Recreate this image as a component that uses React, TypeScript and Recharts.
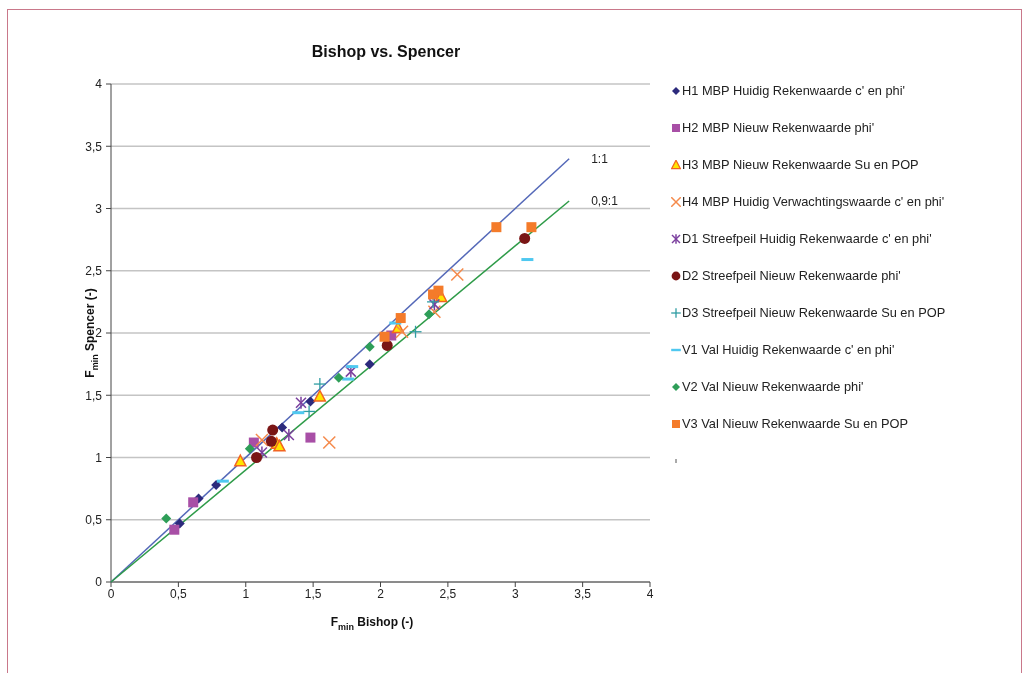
import React from 'react';
import { ScatterChart, Scatter, XAxis, YAxis, CartesianGrid, ReferenceDot } from 'recharts';

// values: [F_min Bishop, F_min Spencer]
const h1: [number, number][] = [[0.51, 0.47], [0.65, 0.67], [0.78, 0.78], [1.27, 1.24], [1.48, 1.45], [1.92, 1.75]];
const h2: [number, number][] = [[0.47, 0.42], [0.61, 0.64], [1.06, 1.12], [1.48, 1.16], [2.08, 1.98]];
const h3: [number, number][] = [[0.96, 0.97], [1.23, 1.11], [1.25, 1.09], [1.55, 1.49], [2.13, 2.04], [2.45, 2.29]];
const h4: [number, number][] = [[1.12, 1.14], [1.62, 1.12], [2.16, 2.01], [2.4, 2.17], [2.57, 2.47]];
const d1: [number, number][] = [[1.12, 1.04], [1.32, 1.18], [1.41, 1.44], [1.78, 1.69], [2.4, 2.23]];
const d2: [number, number][] = [[1.08, 1.0], [1.19, 1.13], [1.2, 1.22], [2.05, 1.9], [3.07, 2.76]];
const d3: [number, number][] = [[1.47, 1.37], [1.55, 1.59], [2.26, 2.01], [2.39, 2.25]];
const v1: [number, number][] = [[0.83, 0.81], [1.39, 1.36], [1.76, 1.63], [1.79, 1.73], [2.11, 2.08], [3.09, 2.59]];
const v2: [number, number][] = [[0.41, 0.51], [1.03, 1.07], [1.69, 1.64], [1.92, 1.89], [2.36, 2.15]];
const v3: [number, number][] = [[2.03, 1.97], [2.15, 2.12], [2.39, 2.31], [2.43, 2.34], [2.86, 2.85], [3.12, 2.85]];

const line11: [number, number][] = [[0, 0], [3.4, 3.4]];
const line091: [number, number][] = [[0, 0], [3.4, 3.06]];

const ticks = [0, 0.5, 1, 1.5, 2, 2.5, 3, 3.5, 4];

type Kind = 'diamond' | 'square' | 'triangle' | 'x' | 'star' | 'circle' | 'plus' | 'dash';

const series: { name: string; kind: Kind; color: string; data: [number, number][] }[] = [
  { name: "H1 MBP Huidig Rekenwaarde c' en phi'", kind: 'diamond', color: '#2c2a7c', data: h1 },
  { name: "H2 MBP Nieuw Rekenwaarde phi'", kind: 'square', color: '#a84fa6', data: h2 },
  { name: 'H3 MBP Nieuw Rekenwaarde Su en POP', kind: 'triangle', color: '#f26522', data: h3 },
  { name: "H4 MBP Huidig Verwachtingswaarde c' en phi'", kind: 'x', color: '#f58a4b', data: h4 },
  { name: "D1 Streefpeil Huidig Rekenwaarde c' en phi'", kind: 'star', color: '#7b3f9e', data: d1 },
  { name: "D2 Streefpeil Nieuw Rekenwaarde phi'", kind: 'circle', color: '#7a1515', data: d2 },
  { name: 'D3 Streefpeil Nieuw Rekenwaarde Su en POP', kind: 'plus', color: '#2f9da3', data: d3 },
  { name: "V1 Val Huidig Rekenwaarde c' en phi'", kind: 'dash', color: '#4fc8f0', data: v1 },
  { name: "V2 Val Nieuw Rekenwaarde phi'", kind: 'diamond', color: '#2e9e58', data: v2 },
  { name: 'V3 Val Nieuw Rekenwaarde Su en POP', kind: 'square', color: '#f47b2a', data: v3 },
];

const toPts = (d: [number, number][]) => d.map(([x, y]) => ({ x, y }));
const fmt = (v: number) => String(v).replace('.', ',');

function Marker({ kind, color, cx, cy, s = 1 }: { kind: Kind; color: string; cx: number; cy: number; s?: number }) {
  const h = 5 * s;
  switch (kind) {
    case 'diamond':
      return <polygon points={`${cx},${cy - h} ${cx + h},${cy} ${cx},${cy + h} ${cx - h},${cy}`} fill={color} />;
    case 'square':
      return <rect x={cx - h} y={cy - h} width={2 * h} height={2 * h} fill={color} />;
    case 'triangle':
      return (
        <polygon
          points={`${cx},${cy - h * 1.2} ${cx + h * 1.1},${cy + h * 0.9} ${cx - h * 1.1},${cy + h * 0.9}`}
          fill="#ffe500"
          stroke={color}
          strokeWidth={1.5 * s}
        />
      );
    case 'x':
      return (
        <g stroke={color} strokeWidth={1.5}>
          <line x1={cx - h * 1.2} y1={cy - h * 1.2} x2={cx + h * 1.2} y2={cy + h * 1.2} />
          <line x1={cx - h * 1.2} y1={cy + h * 1.2} x2={cx + h * 1.2} y2={cy - h * 1.2} />
        </g>
      );
    case 'star':
      return (
        <g stroke={color} strokeWidth={1.5}>
          <line x1={cx - h} y1={cy - h} x2={cx + h} y2={cy + h} />
          <line x1={cx - h} y1={cy + h} x2={cx + h} y2={cy - h} />
          <line x1={cx} y1={cy - h * 1.2} x2={cx} y2={cy + h * 1.2} />
        </g>
      );
    case 'circle':
      return <circle cx={cx} cy={cy} r={h * 1.1} fill={color} />;
    case 'plus':
      return (
        <g stroke={color} strokeWidth={1.3}>
          <line x1={cx - h * 1.2} y1={cy} x2={cx + h * 1.2} y2={cy} />
          <line x1={cx} y1={cy - h * 1.2} x2={cx} y2={cy + h * 1.2} />
        </g>
      );
    case 'dash':
      return <rect x={cx - h * 1.2} y={cy - 1.5 * s} width={h * 2.4} height={3 * s} fill={color} />;
  }
}

const lineLabel = (text: string) => (p: any) => {
  const vb = p.viewBox || {};
  const x = (vb.x ?? 0) + (vb.width ?? 0) + 22;
  const y = (vb.y ?? 0) + (vb.height ?? 0) / 2 + 4;
  return (
    <text x={x} y={y} fontSize={12} fill="#222" fontFamily="Liberation Sans, Arial, sans-serif">
      {text}
    </text>
  );
};

export default function App() {
  const font = 'Liberation Sans, Arial, sans-serif';
  return (
    <div style={{ position: 'relative', width: 1009, height: 657, fontFamily: font }}>
      <div
        style={{
          position: 'fixed',
          left: 7,
          top: 9,
          width: 1015,
          height: 700,
          borderTop: '1px solid #c9788a',
          borderLeft: '1px solid #c9788a',
          borderRight: '1px solid #c9788a',
          boxSizing: 'border-box',
        }}
      />
      <ScatterChart width={1009} height={657} margin={{ top: 76, right: 367, bottom: 53, left: 63 }}>
        <CartesianGrid vertical={false} stroke="#c4c4c4" strokeWidth={1.5} />
        <XAxis
          type="number"
          dataKey="x"
          domain={[0, 4]}
          ticks={ticks}
          tickFormatter={fmt}
          height={30}
          tickSize={5}
          stroke="#444"
          tick={{ fontSize: 12, fill: '#222', fontFamily: font }}
        />
        <YAxis
          type="number"
          dataKey="y"
          domain={[0, 4]}
          ticks={ticks}
          tickFormatter={fmt}
          width={40}
          tickSize={5}
          tickMargin={4}
          stroke="#444"
          tick={{ fontSize: 12, fill: '#222', fontFamily: font }}
        />
        <Scatter
          data={toPts(line11)}
          line={{ stroke: '#5468b8', strokeWidth: 1.5 }}
          shape={() => <g />}
          isAnimationActive={false}
        />
        <Scatter
          data={toPts(line091)}
          line={{ stroke: '#2e9b48', strokeWidth: 1.5 }}
          shape={() => <g />}
          isAnimationActive={false}
        />
        {series.map((s) => (
          <Scatter
            key={s.name}
            name={s.name}
            data={toPts(s.data)}
            isAnimationActive={false}
            shape={(p: any) => <Marker kind={s.kind} color={s.color} cx={p.cx} cy={p.cy} />}
          />
        ))}
        <ReferenceDot x={line11[1][0]} y={line11[1][1]} r={0} stroke="none" label={lineLabel('1:1')} />
        <ReferenceDot x={line091[1][0]} y={line091[1][1]} r={0} stroke="none" label={lineLabel('0,9:1')} />
        <text x={378} y={49} textAnchor="middle" fontSize={16} fontWeight="bold" fill="#111" fontFamily={font}>
          Bishop vs. Spencer
        </text>
        <text x={364} y={618} textAnchor="middle" fontSize={12} fontWeight="bold" fill="#111" fontFamily={font}>
          F<tspan fontSize={9} dy={4}>min</tspan>
          <tspan dy={-4}> Bishop (-)</tspan>
        </text>
        <text
          transform="translate(86,325) rotate(-90)"
          textAnchor="middle"
          fontSize={12}
          fontWeight="bold"
          fill="#111"
          fontFamily={font}
        >
          F<tspan fontSize={9} dy={4}>min</tspan>
          <tspan dy={-4}> Spencer (-)</tspan>
        </text>
      </ScatterChart>
      <div style={{ position: 'absolute', left: 663, top: 64, fontSize: 12.8, color: '#222' }}>
        {series.map((s) => (
          <div key={s.name} style={{ height: 37, display: 'flex', alignItems: 'center', whiteSpace: 'nowrap' }}>
            <svg width={10} height={10} style={{ marginRight: 1 }}>
              <Marker kind={s.kind} color={s.color} cx={5} cy={5} s={0.8} />
            </svg>
            {s.name}
          </div>
        ))}
        <div style={{ height: 37, display: 'flex', alignItems: 'center' }}>
          <svg width={10} height={10}>
            <line x1={5} y1={3} x2={5} y2={7} stroke="#555" strokeWidth={1} />
          </svg>
        </div>
      </div>
    </div>
  );
}
